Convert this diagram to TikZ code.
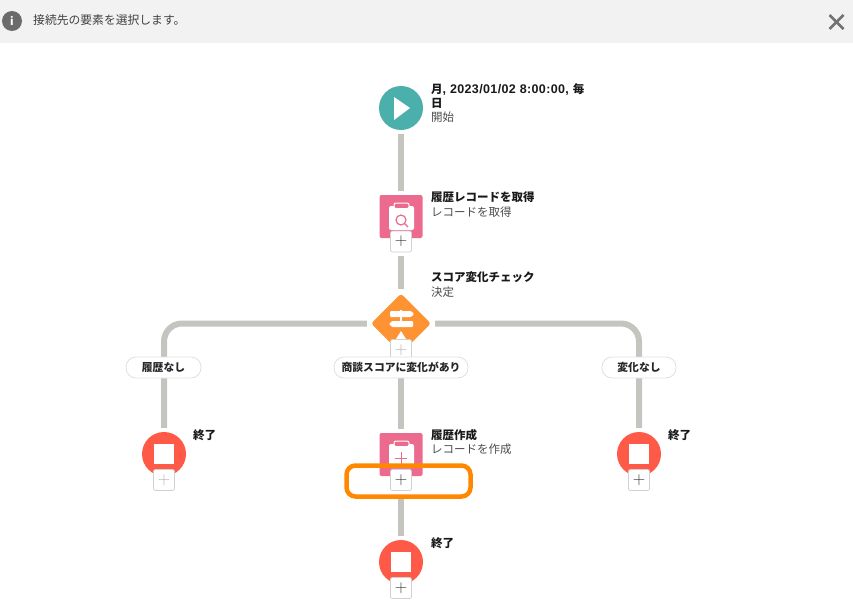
\documentclass[tikz,border=0pt]{standalone}
\usepackage{fontspec}
\setmainfont{Noto Sans CJK JP}
\newfontfamily\latinfont[LetterSpace=3]{Liberation Sans}
\usetikzlibrary{shapes.geometric}
\definecolor{flowgray}{HTML}{C5C4BE}
\definecolor{startteal}{HTML}{4BAFAC}
\definecolor{recpink}{HTML}{EC6A8E}
\definecolor{decideorange}{HTML}{FF9233}
\definecolor{endred}{HTML}{FF5A47}
\definecolor{markorange}{HTML}{FF8800}
\tikzset{
  flowline/.style={line width=6pt, draw=flowgray, shorten >=4pt, shorten <=4pt},
  startnode/.style={circle, fill=startteal, minimum size=44pt, inner sep=0pt},
  endnode/.style={circle, fill=endred, minimum size=44pt, inner sep=0pt},
  recnode/.style={rectangle, rounded corners=2pt, fill=recpink, minimum size=43pt, inner sep=0pt},
  decidenode/.style={diamond, rounded corners=3pt, fill=decideorange, minimum size=60pt, inner sep=0pt},
  plusbtn/.style={rectangle, rounded corners=2pt, fill=white, draw=black!18, line width=0.8pt, minimum size=21pt, inner sep=0pt, text=black!80, font=\fontsize{16}{16}\selectfont},
  plusoff/.style={plusbtn, text=black!30},
  pill/.style={rectangle, rounded corners=10pt, fill=white, draw=black!12, line width=0.8pt, minimum height=21pt, inner sep=0pt, text=black!85, font=\fontsize{10.8}{12}\selectfont\bfseries},
  title/.style={anchor=north west, inner sep=0pt, align=left, text=black!90, font=\fontsize{11.5}{14}\selectfont\bfseries},
  subtitle/.style={anchor=north west, inner sep=0pt, text=black!70, font=\fontsize{11.5}{14}\selectfont},
}
\begin{document}
\begin{tikzpicture}[x=1pt, y=-1pt]
\useasboundingbox (0,0) rectangle (853,613);

\fill[black!5] (0,0) rectangle (853,43);
\draw (12,21) node[circle, fill=black!58, minimum size=20pt, inner sep=0pt, text=white, font=\fontsize{11}{11}\selectfont\bfseries] (infoicon) {i};
\draw (33,20) node[anchor=west, inner sep=0pt, text=black!75, font=\fontsize{11.8}{13}\selectfont] (infotext) {接続先の要素を選択します。};
\draw[line width=2.5pt, black!55] (829.5,15) -- (843.5,29);
\draw[line width=2.5pt, black!55] (843.5,15) -- (829.5,29);

\draw (401,108) node[startnode] (start) {};
\draw (401,216.5) node[recnode] (getrec) {};
\draw (401,323.5) node[decidenode] (decide) {};
\draw (401,454.5) node[recnode] (createrec) {};
\draw (164,454) node[endnode] (endleft) {};
\draw (639,454) node[endnode] (endright) {};
\draw (401,562) node[endnode] (endmid) {};

\fill[white] (394,97) -- (410,108) -- (394,120) -- cycle;

\fill[white, rounded corners=2pt] (389,206) rectangle (414,230);
\draw[white, fill=recpink, line width=1pt, rounded corners=2pt] (394,203) rectangle (409,208.5);
\draw[recpink, line width=1.2pt] (401,220) circle (5);
\draw[recpink, line width=1.2pt] (404.5,223.5) -- (408,227);

\fill[white, rounded corners=2pt] (389,444) rectangle (414,468);
\draw[white, fill=recpink, line width=1pt, rounded corners=2pt] (394,441) rectangle (409,446.5);
\draw[recpink, line width=1pt] (395,458) -- (407,458);
\draw[recpink, line width=1pt] (401,452) -- (401,466);

\fill[white, rounded corners=1pt] (390,311) -- (411,311) -- (414,314) -- (411,317) -- (390,317) -- cycle;
\fill[white, rounded corners=1pt] (392,321) -- (413,321) -- (413,327) -- (392,327) -- (389,324) -- cycle;
\fill[white] (400,309.5) rectangle (402,311);
\fill[white] (400,317) rectangle (402,321);
\fill[white] (396,339) -- (401,331) -- (406,339) -- cycle;

\fill[white] (154,444) rectangle (174,464);
\fill[white] (629,444) rectangle (649,464);
\fill[white] (391,552) rectangle (411,572);

\draw (401,241.5) node[plusbtn] (getplus) {$+$};
\draw (401,350) node[plusoff] (decideplus) {$+$};
\draw (401,480) node[plusbtn] (createplus) {$+$};
\draw (164,480) node[plusoff] (leftplus) {$+$};
\draw (639,480) node[plusbtn] (rightplus) {$+$};
\draw (401,588) node[plusbtn] (midplus) {$+$};

\draw[flowline] (start) -- (getrec);
\draw[flowline] (getplus) -- (decide);
\draw[flowline] (decideplus) -- (createrec);
\draw[flowline] (createplus) -- (endmid);
\draw[flowline, rounded corners=18pt] (decide) -| (endleft);
\draw[flowline, rounded corners=18pt] (decide) -| (endright);

\draw (163.5,367.5) node[pill, minimum width=75pt] (pillleft) {履歴なし};
\draw (401,367.5) node[pill, minimum width=134pt] (pillmid) {商談スコアに変化があり};
\draw (639,367.5) node[pill, minimum width=74pt] (pillright) {変化なし};

\draw (408.5,481) node[rectangle, rounded corners=9pt, draw=markorange, line width=4.5pt, minimum width=124pt, minimum height=31pt, inner sep=0pt] (marker) {};

\draw (431,83.5) node[title] (starttitle) {月{\latinfont\fontsize{12.5}{14}\selectfont, 2023/01/02 8:00:00, }毎\\日};
\draw (431,112) node[subtitle] (startsub) {開始};
\draw (431,191.5) node[title] (gettitle) {履歴レコードを取得};
\draw (431,206.5) node[subtitle] (getsub) {レコードを取得};
\draw (431,271.5) node[title] (decidetitle) {スコア変化チェック};
\draw (431,286.5) node[subtitle] (decidesub) {決定};
\draw (431,429.5) node[title] (createtitle) {履歴作成};
\draw (431,443.5) node[subtitle] (createsub) {レコードを作成};
\draw (193,429.5) node[title] (lefttitle) {終了};
\draw (668,429.5) node[title] (righttitle) {終了};
\draw (431,537.5) node[title] (midtitle) {終了};

\end{tikzpicture}
\end{document}
